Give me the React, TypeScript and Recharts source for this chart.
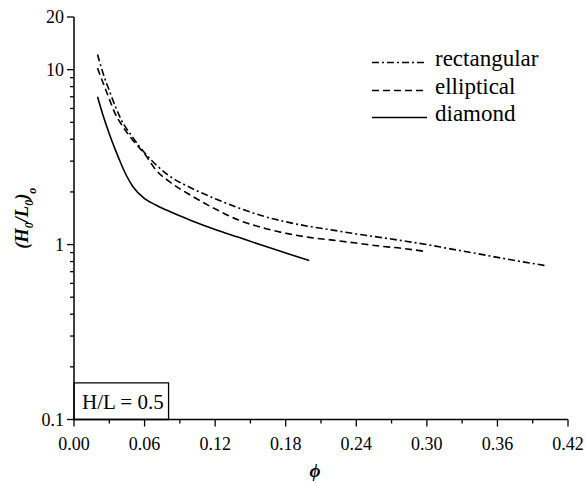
import { Legend, Line, LineChart, ReferenceArea, XAxis, YAxis } from "recharts";

const FONT = "'Liberation Serif', 'Times New Roman', serif";

// x axis: phi, major every 0.06, minor in between
const xTicks = [0, 0.03, 0.06, 0.09, 0.12, 0.15, 0.18, 0.21, 0.24, 0.27, 0.3, 0.33, 0.36, 0.39, 0.42];
const xMajor = [0, 0.06, 0.12, 0.18, 0.24, 0.3, 0.36, 0.42];

// y axis: log, decades plus minor ticks
const yTicks = [
  0.1, 0.2, 0.3, 0.4, 0.5, 0.6, 0.7, 0.8, 0.9,
  1, 2, 3, 4, 5, 6, 7, 8, 9,
  10, 20,
];
const yLabels = [0.1, 1, 10, 20];

const seriesNames = ["rectangular", "elliptical", "diamond"];
const seriesDash = ["7 3 2 3", "7 4", undefined];

const rectPhi = [0.02, 0.025, 0.03, 0.035, 0.04, 0.05, 0.06, 0.07, 0.08, 0.1, 0.12, 0.14, 0.16, 0.18, 0.2, 0.22, 0.24, 0.26, 0.28, 0.3, 0.32, 0.34, 0.36, 0.38, 0.4];
const rectH = [12.2, 9.4, 7.6, 6.2, 5.2, 4.1, 3.35, 2.85, 2.5, 2.1, 1.83, 1.62, 1.46, 1.35, 1.27, 1.21, 1.15, 1.1, 1.05, 1.0, 0.945, 0.895, 0.845, 0.8, 0.76];

const ellPhi = [0.02, 0.025, 0.03, 0.035, 0.04, 0.05, 0.06, 0.07, 0.08, 0.1, 0.12, 0.14, 0.16, 0.18, 0.2, 0.22, 0.24, 0.26, 0.28, 0.3];
const ellH = [10.2, 8.3, 6.8, 5.6, 4.9, 3.95, 3.3, 2.65, 2.32, 1.9, 1.6, 1.38, 1.25, 1.16, 1.1, 1.06, 1.02, 0.98, 0.95, 0.91];

const diaPhi = [0.02, 0.025, 0.03, 0.035, 0.04, 0.045, 0.05, 0.06, 0.07, 0.08, 0.1, 0.12, 0.14, 0.16, 0.18, 0.2];
const diaH = [7.0, 5.4, 4.3, 3.5, 2.9, 2.45, 2.15, 1.83, 1.68, 1.56, 1.37, 1.22, 1.1, 0.99, 0.895, 0.81];

const toRows = (phi: number[], h: number[]) => phi.map((p, i) => ({ phi: p, h: h[i] }));
const seriesData = [toRows(rectPhi, rectH), toRows(ellPhi, ellH), toRows(diaPhi, diaH)];

const near = (list: number[], v: number) => list.some((m) => Math.abs(m - v) < 1e-9);

function BottomTick({ x, y, payload }: any) {
  const major = near(xMajor, payload.value);
  return (
    <g>
      <line x1={x} x2={x} y1={y} y2={y + (major ? 7 : 4)} stroke="#000" strokeWidth={1.3} />
      {major ? (
        <text x={x} y={y + 30} textAnchor="middle" fontSize={18} fontFamily={FONT} fill="#000">
          {payload.value.toFixed(2)}
        </text>
      ) : null}
    </g>
  );
}

function TopTick({ x, y, payload }: any) {
  const major = near(xMajor, payload.value);
  return <line x1={x} x2={x} y1={y} y2={y + (major ? 7 : 4)} stroke="#000" strokeWidth={1.3} />;
}

function LeftTick({ x, y, payload }: any) {
  const major = near(yLabels, payload.value);
  return (
    <g>
      <line x1={x} x2={x - (major ? 7 : 4)} y1={y} y2={y} stroke="#000" strokeWidth={1.3} />
      {major ? (
        <text x={x - 10} y={y + 6} textAnchor="end" fontSize={18} fontFamily={FONT} fill="#000">
          {String(payload.value)}
        </text>
      ) : null}
    </g>
  );
}

function RightTick({ x, y, payload }: any) {
  const major = near(yLabels, payload.value);
  return <line x1={x} x2={x - (major ? 7 : 4)} y1={y} y2={y} stroke="#000" strokeWidth={1.3} />;
}

function XTitle({ viewBox }: any) {
  const cx = viewBox.x + viewBox.width / 2 - 6;
  return (
    <text x={cx} y={viewBox.y + 57.5} textAnchor="middle" fontSize={19} fontWeight="bold" fontStyle="italic" fontFamily={FONT} fill="#000">
      ϕ
    </text>
  );
}

function YTitle({ viewBox }: any) {
  const cx = viewBox.x + 28;
  const cy = viewBox.y + viewBox.height / 2;
  return (
    <text
      x={cx}
      y={cy}
      transform={`rotate(-90 ${cx} ${cy})`}
      textAnchor="middle"
      fontSize={18.5}
      fontWeight="bold"
      fontStyle="italic"
      fontFamily={FONT}
      fill="#000"
    >
      <tspan>(H</tspan>
      <tspan dy={5} fontSize={12}>0</tspan>
      <tspan dy={-5}>/L</tspan>
      <tspan dy={5} fontSize={12}>0</tspan>
      <tspan dy={-5}>)</tspan>
      <tspan dy={8} fontSize={12}>o</tspan>
    </text>
  );
}

function LegendBox() {
  return (
    <div style={{ fontFamily: FONT, fontSize: 23, lineHeight: "28px", color: "#000" }}>
      {seriesNames.map((name, i) => (
        <div key={name} style={{ display: "flex", alignItems: "flex-start", height: 27.5 }}>
          <svg width={56} height={28} style={{ marginRight: 7 }}>
            <line x1={0} x2={55} y1={17.5} y2={17.5} stroke="#000" strokeWidth={1.6} strokeDasharray={seriesDash[i]} />
          </svg>
          <span>{name}</span>
        </div>
      ))}
    </div>
  );
}

const axisLine = { stroke: "#000", strokeWidth: 1.5 };

export default function App() {
  return (
    <div style={{ position: "absolute", left: 0, top: 0, background: "#fff" }}>
      <LineChart width={585} height={483} margin={{ top: 17, right: 17, bottom: 0, left: 0 }}>
        <XAxis
          xAxisId="x"
          dataKey="phi"
          type="number"
          domain={[0, 0.42]}
          ticks={xTicks}
          interval={0}
          allowDataOverflow
          height={63.5}
          tickSize={0}
          tickMargin={0}
          tickLine={false}
          axisLine={axisLine}
          tick={(p: any) => <BottomTick {...p} />}
          label={{ content: (p: any) => <XTitle {...p} /> }}
        />
        <XAxis
          xAxisId="top"
          orientation="top"
          dataKey="phi"
          type="number"
          domain={[0, 0.42]}
          ticks={xTicks}
          interval={0}
          allowDataOverflow
          height={0}
          tickSize={0}
          tickMargin={0}
          tickLine={false}
          axisLine={axisLine}
          tick={(p: any) => <TopTick {...p} />}
        />
        <YAxis
          yAxisId="y"
          type="number"
          scale="log"
          domain={[0.1, 20]}
          ticks={yTicks}
          interval={0}
          allowDataOverflow
          width={74}
          tickSize={0}
          tickMargin={0}
          tickLine={false}
          axisLine={axisLine}
          tick={(p: any) => <LeftTick {...p} />}
          label={{ content: (p: any) => <YTitle {...p} /> }}
        />
        <YAxis
          yAxisId="right"
          orientation="right"
          type="number"
          scale="log"
          domain={[0.1, 20]}
          ticks={yTicks}
          interval={0}
          allowDataOverflow
          width={0}
          tickSize={0}
          tickMargin={0}
          tickLine={false}
          axisLine={axisLine}
          tick={(p: any) => <RightTick {...p} />}
        />
        <ReferenceArea
          xAxisId="x"
          yAxisId="y"
          x1={0}
          x2={0.0804}
          y1={0.1}
          y2={0.162}
          fill="#fff"
          fillOpacity={1}
          stroke="#000"
          strokeWidth={1.3}
          ifOverflow="visible"
          label={{ value: "H/L = 0.5", position: "insideLeft", offset: 8, fontSize: 21, fill: "#000", fontFamily: FONT }}
        />
        {seriesNames.map((name, i) => (
          <Line
            key={name}
            name={name}
            xAxisId="x"
            yAxisId="y"
            data={seriesData[i]}
            dataKey="h"
            type="monotone"
            stroke="#000"
            strokeWidth={1.6}
            strokeDasharray={seriesDash[i]}
            dot={false}
            activeDot={false}
            isAnimationActive={false}
          />
        ))}
        <Legend
          layout="vertical"
          align="center"
          verticalAlign="middle"
          content={() => <LegendBox />}
          wrapperStyle={{ left: 372, top: 45, width: 200, height: 90 }}
        />
      </LineChart>
    </div>
  );
}
